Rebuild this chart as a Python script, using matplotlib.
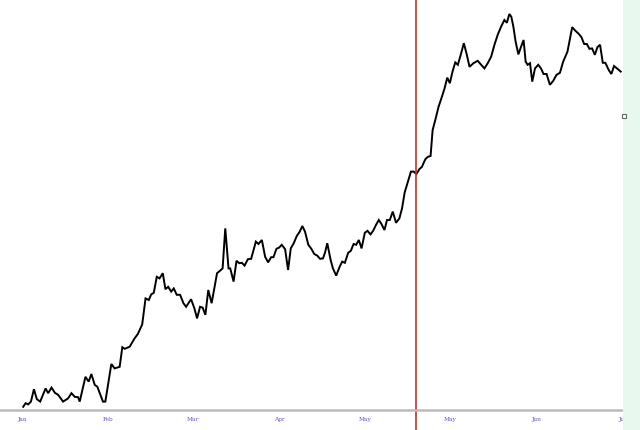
import matplotlib
matplotlib.use("Agg")
import matplotlib.pyplot as plt
from matplotlib.patches import Rectangle
from matplotlib.lines import Line2D
from matplotlib.transforms import blended_transform_factory

# month labels along the bottom (one per month position)
month_labels = ["Jan", "Feb", "Mar", "Apr", "May", "May", "Jun", "Jul"]
month_pos = [0, 1, 2, 3, 4, 5, 6, 7]

# time in months from the first label
t = [0.015, 0.043, 0.073, 0.105, 0.140, 0.174, 0.213, 0.276, 0.306, 0.345,
     0.384, 0.422, 0.480, 0.538, 0.578, 0.616, 0.655, 0.674, 0.741, 0.779,
     0.810, 0.849, 0.880, 0.945, 0.973, 1.043, 1.081, 1.140, 1.171, 1.198,
     1.256, 1.314, 1.352, 1.403, 1.442, 1.480, 1.508, 1.538, 1.573, 1.605,
     1.643, 1.674, 1.706, 1.741, 1.771, 1.806, 1.845, 1.884, 1.915, 1.973,
     2.012, 2.043, 2.078, 2.108, 2.140, 2.174, 2.213, 2.244, 2.276, 2.310,
     2.341, 2.372, 2.410, 2.430, 2.469, 2.503, 2.535, 2.566, 2.597, 2.636,
     2.674, 2.729, 2.759, 2.799, 2.837, 2.872, 2.907, 2.934, 2.969, 3.000,
     3.031, 3.070, 3.105, 3.136, 3.171, 3.206, 3.241, 3.271, 3.302, 3.341,
     3.376, 3.410, 3.445, 3.477, 3.512, 3.535, 3.562, 3.601, 3.628, 3.666,
     3.706, 3.736, 3.767, 3.806, 3.837, 3.869, 3.899, 3.930, 3.962, 4.000,
     4.031, 4.066, 4.097, 4.131, 4.163, 4.194, 4.229, 4.259, 4.291, 4.326,
     4.364, 4.403, 4.434, 4.465, 4.503, 4.538, 4.570, 4.601, 4.636, 4.666,
     4.706, 4.736, 4.767, 4.791, 4.822, 4.860, 4.899, 4.930, 4.962, 4.992,
     5.023, 5.055, 5.085, 5.124, 5.155, 5.190, 5.221, 5.267, 5.317, 5.357,
     5.395, 5.434, 5.473, 5.512, 5.550, 5.593, 5.628, 5.657, 5.686, 5.709,
     5.733, 5.759, 5.791, 5.822, 5.852, 5.876, 5.899, 5.927, 5.953, 5.985,
     6.023, 6.055, 6.085, 6.120, 6.159, 6.198, 6.236, 6.276, 6.314, 6.364,
     6.419, 6.457, 6.497, 6.527, 6.558, 6.590, 6.620, 6.651, 6.683, 6.713,
     6.744, 6.776, 6.806, 6.845, 6.876, 6.907, 6.953, 6.985]

price = [100.8, 101.7, 101.4, 102.1, 105.2, 102.7, 102.1, 105.4, 104.2, 105.6,
         104.3, 103.8, 102.1, 102.9, 104.2, 103.3, 103.2, 102.1, 108.3, 107.1,
         109.0, 106.3, 105.8, 102.1, 102.1, 111.5, 110.4, 110.8, 115.7, 115.3,
         115.8, 117.9, 119.0, 121.4, 127.9, 127.5, 128.9, 129.3, 133.3, 132.9,
         134.2, 130.2, 130.8, 129.6, 130.4, 128.8, 128.8, 126.7, 125.8, 127.7,
         125.4, 122.9, 125.8, 125.6, 123.8, 130.0, 126.7, 130.4, 134.2, 134.8,
         135.4, 145.4, 135.4, 135.4, 132.1, 137.3, 136.7, 136.8, 136.1, 137.7,
         137.8, 142.1, 141.5, 142.5, 138.3, 136.9, 138.2, 138.2, 140.3, 140.6,
         141.3, 140.2, 135.0, 140.4, 141.7, 143.5, 144.6, 146.0, 144.6, 141.3,
         140.3, 139.0, 138.6, 137.8, 137.9, 139.3, 141.7, 137.5, 135.4, 133.6,
         135.8, 137.1, 136.8, 139.3, 139.8, 141.5, 141.3, 142.5, 140.4, 144.3,
         144.8, 143.9, 144.8, 146.3, 147.5, 146.5, 145.0, 147.5, 147.5, 149.6,
         146.8, 147.9, 150.4, 154.4, 157.1, 159.6, 159.6, 159.0, 160.2, 160.8,
         162.7, 163.3, 163.5, 170.0, 172.5, 175.8, 178.3, 180.4, 183.1, 181.7,
         184.6, 186.9, 186.3, 189.2, 191.7, 188.8, 185.8, 186.7, 187.3, 186.3,
         185.4, 186.7, 188.3, 191.3, 193.8, 196.0, 197.5, 196.8, 199.0, 198.3,
         195.8, 192.1, 188.9, 190.8, 192.5, 187.1, 186.3, 186.7, 182.1, 185.4,
         186.3, 185.4, 184.0, 184.0, 181.3, 182.3, 183.8, 184.3, 187.1, 189.6,
         195.7, 194.8, 194.0, 193.2, 191.5, 191.5, 190.3, 190.4, 188.8, 190.7,
         191.3, 186.8, 186.8, 185.0, 184.0, 186.0, 185.2, 184.6]

marker_t = 4.593      # red vertical marker
level_mark = 173.5    # small square at the right edge

fig = plt.figure(figsize=(6.4, 4.3), dpi=100)
ax = fig.add_axes([0, 20 / 430, 622 / 640, 410 / 430])

ax.plot(t, price, color="black", lw=1.4, solid_joinstyle="miter")
ax.axvline(marker_t, ymin=-20 / 410, ymax=1, color="#cc2a2a", lw=1.2, clip_on=False)

ax.set_xlim(-22 / 86, 622 / 86 - 22 / 86)
ax.set_ylim(100, 202.5)

for s in ["top", "left", "right"]:
    ax.spines[s].set_visible(False)
ax.spines["bottom"].set_color("#bbbbbb")
ax.spines["bottom"].set_linewidth(1.8)
ax.set_yticks([])
ax.set_xticks(month_pos)
ax.set_xticklabels(month_labels, fontsize=4.2, color="#5656c4",
                   family="DejaVu Serif")
ax.tick_params(axis="x", length=0, pad=5)

# light green strip on the right side
fig.patches.append(Rectangle((623 / 640, 0), 17 / 640, 1, transform=fig.transFigure,
                             facecolor="#e9f8ee", edgecolor="none", zorder=5))
# small square at the price level, on top of the strip
trans = blended_transform_factory(fig.transFigure, ax.transData)
fig.add_artist(Line2D([624 / 640], [level_mark], marker="s", ms=2.5, mfc="white",
                      mec="#666666", mew=0.8, linestyle="none", transform=trans,
                      zorder=6))

fig.savefig("out.png", dpi=100)
